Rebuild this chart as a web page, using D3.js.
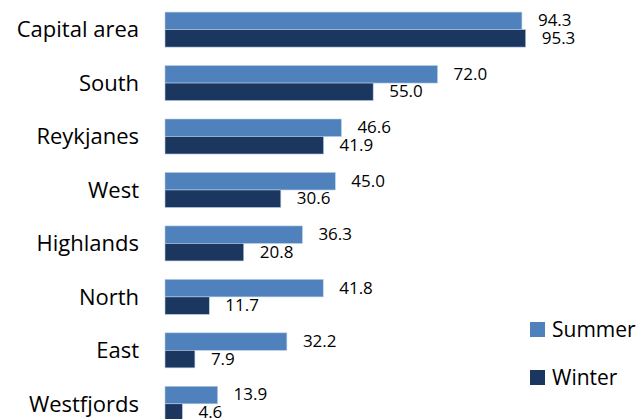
<!DOCTYPE html>
<html>
<head>
<meta charset="utf-8">
<script src="https://cdn.jsdelivr.net/npm/d3@7"></script>
<style>
  body { margin: 0; background: #fff; overflow: hidden; }
  svg { display: block; font-family: "Open Sans", sans-serif; }
</style>
</head>
<body>
<div id="chart"></div>
<script>
// data
var regions = ["Capital area", "South", "Reykjanes", "West", "Highlands", "North", "East", "Westfjords"];
var summer = [94.3, 72.0, 46.6, 45.0, 36.3, 41.8, 32.2, 13.9];
var winter = [95.3, 55.0, 41.9, 30.6, 20.8, 11.7, 7.9, 4.6];
var seriesNames = ["Summer", "Winter"];
var colors = ["#4F81BD", "#1B375F"];

var svg = d3.select("#chart").append("svg")
  .attr("width", 644)
  .attr("height", 419);

var x = d3.scaleLinear().domain([0, 100]).range([165, 543.5]);
var y = d3.scaleBand().domain(regions).range([3, 430.4]).paddingInner(0.345).paddingOuter(0.17);
var sub = d3.scaleBand().domain(seriesNames).range([0, y.bandwidth()]);

var rows = regions.map(function(r, i) {
  return { region: r, values: [summer[i], winter[i]] };
});

var g = svg.selectAll("g.row").data(rows).enter().append("g")
  .attr("class", "row")
  .attr("transform", function(d) { return "translate(0," + y(d.region) + ")"; });

g.selectAll("rect").data(function(d) { return d.values; }).enter().append("rect")
  .attr("x", x(0))
  .attr("y", function(d, i) { return sub(seriesNames[i]); })
  .attr("width", function(d) { return x(d) - x(0); })
  .attr("height", sub.bandwidth())
  .style("fill", function(d, i) { return colors[i]; })
  .style("stroke", "#b9cde5")
  .style("stroke-width", 0.6);

g.selectAll("text.val").data(function(d) { return d.values; }).enter().append("text")
  .attr("class", "val")
  .attr("x", function(d) { return x(d) + 16; })
  .attr("y", function(d, i) { return sub(seriesNames[i]) + sub.bandwidth() / 2; })
  .attr("dy", "0.32em")
  .style("font-size", "17px")
  .style("fill", "#000")
  .text(function(d) { return d.toFixed(1); });

// category axis labels
svg.selectAll("text.cat").data(regions).enter().append("text")
  .attr("class", "cat")
  .attr("x", 139)
  .attr("y", function(d) { return y(d) + y.bandwidth() / 2; })
  .attr("dy", "0.35em")
  .attr("text-anchor", "end")
  .style("font-size", "22px")
  .style("fill", "#000")
  .text(function(d) { return d; });

// legend
var legend = svg.selectAll("g.legend").data(seriesNames).enter().append("g")
  .attr("class", "legend")
  .attr("transform", function(d, i) { return "translate(530," + (322 + i * 48) + ")"; });
legend.append("rect")
  .attr("width", 15).attr("height", 15)
  .style("fill", function(d, i) { return colors[i]; });
legend.append("text")
  .attr("x", 22).attr("y", 7.5).attr("dy", "0.35em")
  .style("font-size", "21px")
  .text(function(d) { return d; });
</script>
</body>
</html>
